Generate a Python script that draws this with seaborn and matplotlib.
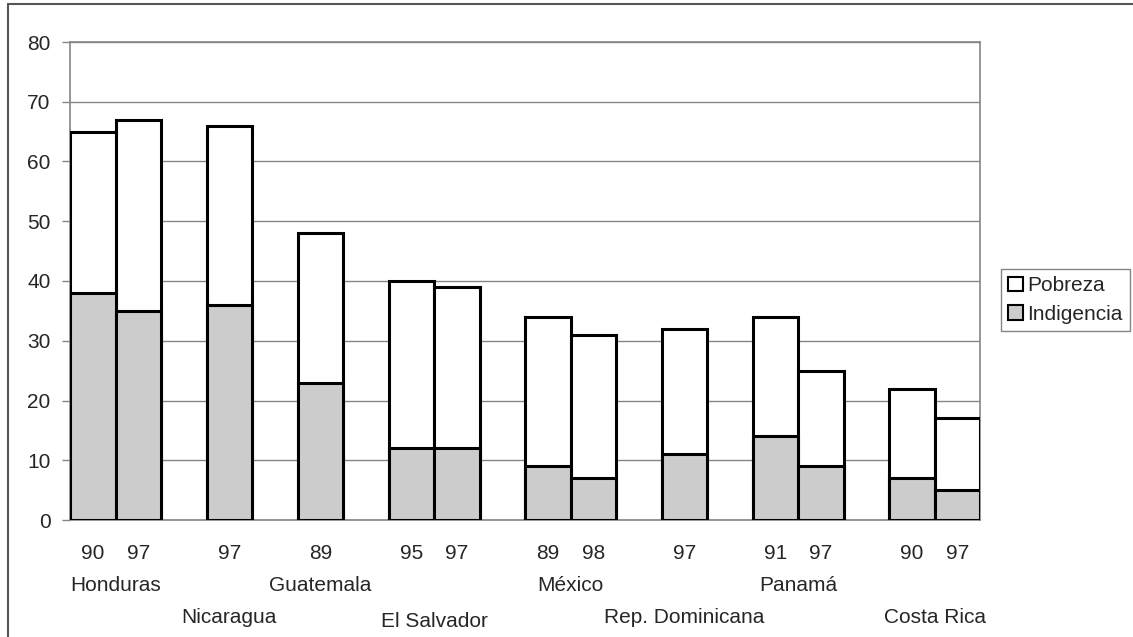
import numpy as np
import pandas as pd
import seaborn as sns
import matplotlib.pyplot as plt
from matplotlib.patches import Patch
from matplotlib.lines import Line2D

# data: one entry per slot on the x axis, empty slots separate countries
years = ["90", "97", "", "97", "", "89", "", "95", "97", "", "89", "98", "",
         "97", "", "91", "97", "", "90", "97"]
slot_country = ["Honduras", "Honduras", "", "Nicaragua", "", "Guatemala", "",
                "El Salvador", "El Salvador", "", "México", "México", "",
                "Rep. Dominicana", "", "Panamá", "Panamá", "", "Costa Rica", "Costa Rica"]
pobreza = [65, 67, np.nan, 66, np.nan, 48, np.nan, 40, 39, np.nan, 34, 31, np.nan,
           32, np.nan, 34, 25, np.nan, 22, 17]
indigencia = [38, 35, np.nan, 36, np.nan, 23, np.nan, 12, 12, np.nan, 9, 7, np.nan,
              11, np.nan, 14, 9, np.nan, 7, 5]
countries = ["Honduras", "Nicaragua", "Guatemala", "El Salvador", "México",
             "Rep. Dominicana", "Panamá", "Costa Rica"]

slots = [str(i) for i in range(len(years))]
df = pd.DataFrame({"slot": slots, "pobreza": pobreza, "indigencia": indigencia})

sns.set_style("white")
plt.rcParams['font.family'] = ['Liberation Sans', 'DejaVu Sans']
fs = 15

fig = plt.figure(figsize=(11.33, 6.37), dpi=100)
ax = fig.add_axes([70 / 1133, 1 - 520 / 637, 910 / 1133, 478 / 637])

grid_col = "#858585"
sns.barplot(data=df, x="slot", y="pobreza", order=slots, color="white",
            edgecolor="black", linewidth=2.2, width=1.0, saturation=1, ax=ax, zorder=3)
sns.barplot(data=df, x="slot", y="indigencia", order=slots, color="#cccccc",
            edgecolor="black", linewidth=2.2, width=1.0, saturation=1, ax=ax, zorder=4)

ax.set_xlim(-0.5, len(slots) - 0.5)
ax.set_ylim(0, 80)
ax.set_yticks(range(0, 81, 10))
ax.yaxis.grid(True, color=grid_col, linewidth=1.0, zorder=0)
ax.set_axisbelow(True)
ax.set_xlabel("")
ax.set_ylabel("")

ax.set_xticks(range(len(slots)))
ax.set_xticklabels(years)
ax.set_xticks(np.arange(-0.5, len(slots)), minor=True)
ax.tick_params(axis="x", which="major", length=0, pad=17, labelsize=fs)
ax.tick_params(axis="x", which="minor", length=6, width=1, color=grid_col, direction="out")
ax.tick_params(axis="y", length=6, width=1, color=grid_col, direction="out",
               left=True, pad=8, labelsize=fs)

for s in ax.spines.values():
    s.set_color(grid_col)
    s.set_linewidth(1.2)

# country names, alternating rows
for k, name in enumerate(countries):
    pos = np.mean([i for i, c in enumerate(slot_country) if c == name])
    yy = -0.136 if k % 2 == 0 else -0.205
    if name == "El Salvador":
        yy = -0.213
    ax.text(pos, yy, name, transform=ax.get_xaxis_transform(), ha="center",
            va="center", fontsize=fs)

handles = [Patch(facecolor="white", edgecolor="black", linewidth=1.5),
           Patch(facecolor="#cccccc", edgecolor="black", linewidth=1.5)]
leg = fig.legend(handles, ["Pobreza", "Indigencia"], loc="upper left",
                 bbox_to_anchor=(1001 / 1133, 1 - 269 / 637), borderaxespad=0,
                 fontsize=fs, handlelength=0.7, handleheight=0.7,
                 handletextpad=0.2, labelspacing=0.45, borderpad=0.35,
                 fancybox=False, edgecolor=grid_col, framealpha=1)
leg.get_frame().set_linewidth(1.0)

# outer chart border (top and left visible)
fig.add_artist(Line2D([8 / 1133, 8 / 1133], [0, 1 - 4 / 637], color="#555555", lw=1.5))
fig.add_artist(Line2D([8 / 1133, 1], [1 - 4 / 637, 1 - 4 / 637], color="#555555", lw=1.5))

fig.savefig("out.png", dpi=100)
